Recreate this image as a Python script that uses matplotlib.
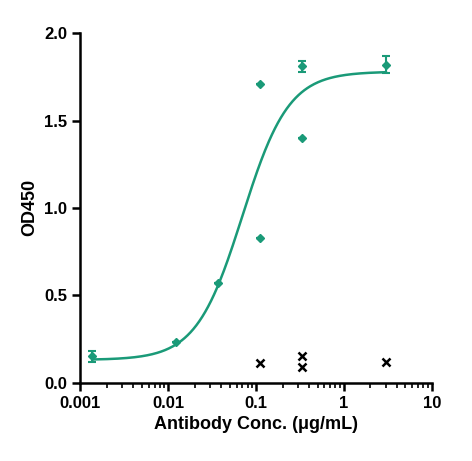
import numpy as np
import matplotlib.pyplot as plt

plt.rcParams['font.family'] = 'Liberation Sans'
plt.rcParams['font.weight'] = 'bold'

# data
conc = [0.00137, 0.0123, 0.037, 0.111, 0.111, 0.333, 0.333, 3.0]
od = [0.15, 0.23, 0.57, 1.71, 0.83, 1.81, 1.40, 1.82]
err = [0.03, 0, 0, 0, 0, 0.03, 0, 0.05]
neg_conc = [0.111, 0.333, 0.333, 3.0]
neg_od = [0.11, 0.15, 0.09, 0.12]

# 4PL fit parameters
bottom, top, ec50, hill = 0.13, 1.78, 0.07, 1.65

green = '#1a9a78'
fig, ax = plt.subplots(figsize=(4.72, 4.61), dpi=100)
fig.subplots_adjust(left=0.17, right=0.915, top=0.928, bottom=0.17)

xs = np.logspace(np.log10(0.00137), np.log10(3.0), 300)
ax.plot(xs, bottom + (top - bottom) / (1 + (ec50 / xs) ** hill), c=green, lw=1.8)
ax.errorbar(conc, od, yerr=err, fmt='D', ms=4.5, c=green, ecolor=green,
            capsize=3, elinewidth=1.5, capthick=1.5)
ax.plot(neg_conc, neg_od, 'x', c='black', ms=6, mew=1.8)

ax.set_xscale('log')
ax.set_xlim(0.001, 10)
ax.set_ylim(0, 2.0)
ax.set_yticks([0, 0.5, 1.0, 1.5, 2.0])
ax.set_yticklabels(['0.0', '0.5', '1.0', '1.5', '2.0'])
ax.set_xticks([0.001, 0.01, 0.1, 1, 10])
ax.set_xticklabels(['0.001', '0.01', '0.1', '1', '10'])
ax.tick_params(labelsize=12, width=1.8, length=6)
ax.tick_params(which='minor', width=1.2, length=3.5)
for s in ['top', 'right']:
    ax.spines[s].set_visible(False)
for s in ['left', 'bottom']:
    ax.spines[s].set_linewidth(1.8)
ax.set_xlabel('Antibody Conc. (μg/mL)', fontsize=13, fontweight='bold')
ax.set_ylabel('OD450', fontsize=13, fontweight='bold')
plt.savefig('out.png')
